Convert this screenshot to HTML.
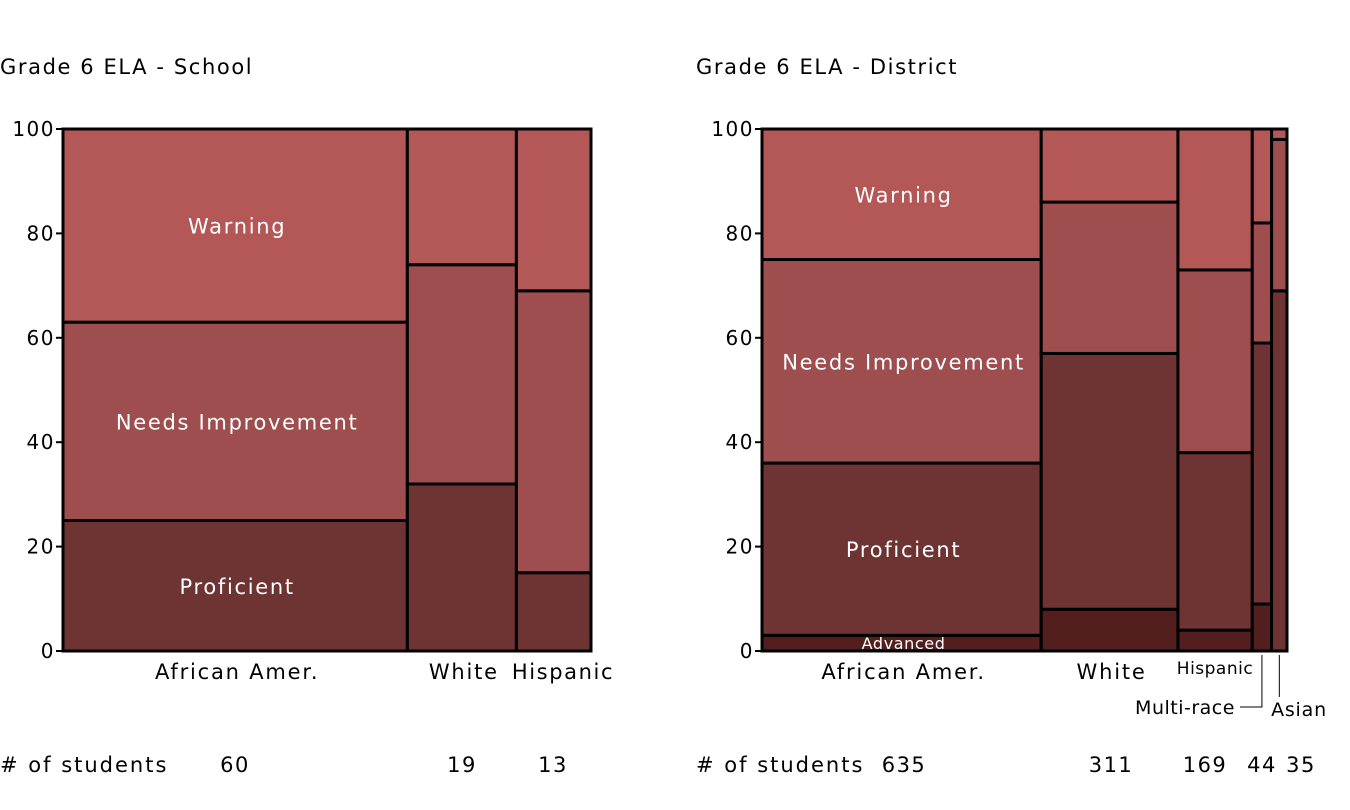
<!DOCTYPE html>
<html><head><meta charset="utf-8"><style>
body{margin:0;background:#fff;}
svg text{font-family:"DejaVu Sans","Liberation Sans",sans-serif;}
</style></head><body>
<svg id="chart" width="1350" height="805" xmlns="http://www.w3.org/2000/svg"></svg>
<script>
const levels = ["Advanced","Proficient","Needs Improvement","Warning"];
const schoolCats = ["African Amer.","White","Hispanic"];
const schoolCounts = [60,19,13];
const schoolAdvanced = [0,0,0];
const schoolProficient = [25,32,15];
const schoolNeeds = [38,42,54];
const schoolWarning = [37,26,31];
const districtCats = ["African Amer.","White","Hispanic","Multi-race","Asian"];
const districtCounts = [635,311,169,44,35];
const districtAdvanced = [3,8,4,9,0];
const districtProficient = [33,49,34,50,69];
const districtNeeds = [39,29,35,23,29];
const districtWarning = [25,14,27,18,2];
const yTicks = [0,20,40,60,80,100];

const colors = ["#521e1e","#6e3333","#9e4e4e","#b45757"];
const NS = "http://www.w3.org/2000/svg";
const svg = document.getElementById("chart");
function mk(tag, attrs, parent){const e=document.createElementNS(NS,tag);for(const k in attrs)e.setAttribute(k,attrs[k]);(parent||svg).appendChild(e);return e;}
function txt(x,y,s,size,anchor,fill,parent,ls){const t=mk("text",{x:x,y:y,"font-size":size,"text-anchor":anchor||"start",fill:fill||"#000","letter-spacing":ls===undefined?1.7:ls},parent);t.textContent=s;return t;}

function drawChart(cfg){
  const g = mk("g",{});
  
  
  const x0=cfg.x0, x1=cfg.x1, yTop=129, yBot=651;
  const ys = v => yBot - v/100*(yBot-yTop);
  const total = cfg.counts.reduce((a,b)=>a+b,0);
  const t = txt(cfg.titleX,74,cfg.title,21,"start","#000",g,1.6);
  
  
  yTicks.forEach(v=>{
    mk("line",{x1:x0-7,x2:x0,y1:ys(v),y2:ys(v),stroke:"#000","stroke-width":2},g);
    const l = txt(x0-8,ys(v)+7,String(v),20,"end","#000",g,1.5);
    
    
  });
  let cx=x0;
  const series=[cfg.adv,cfg.prof,cfg.needs,cfg.warn];
  const bounds=[];
  cfg.counts.forEach((n,i)=>{
    const w=(x1-x0)*n/total;
    let cum=0;
    series.forEach((s,k)=>{
      const v=s[i]; if(v<=0){return;}
      const r=mk("rect",{x:cx,y:ys(cum+v),width:w,height:ys(cum)-ys(cum+v),fill:colors[k],stroke:"#000","stroke-width":3},g);
      
      
      cum+=v;
    });
    bounds.push([cx,cx+w]);
    cx+=w;
  });
  const b0=bounds[0]; const mid=(b0[0]+b0[1])/2+2;
  let cum=0;
  series.forEach((s,k)=>{
    const v=s[0]; if(v<=0){cum+=v;return;}
    const yc=(ys(cum)+ys(cum+v))/2;
    const size = v<6?16:21;
    const l=txt(mid,yc+(v<6?6:8),levels[k],size,"middle","#fff",g,v<6?0.6:1.7);
    
    
    cum+=v;
  });
  cfg.cats.forEach((c,i)=>{
    const m=(bounds[i][0]+bounds[i][1])/2;
    const p=cfg.catPos[i];
    const l=txt(p?p[0]:m+2,p?p[1]:679,c,p?p[2]:21,"middle","#000",g,p?p[3]:1.8);
    
    
    const n=txt(cfg.countX[i],772,String(cfg.counts[i]),21,"middle","#000",g,1.5);
    
    
  });
  const s=txt(cfg.titleX,772,"# of students",21,"start","#000",g,2);
  
  
  return bounds;
}
drawChart({name:"school-chart",title:"Grade 6 ELA - School",titleX:0,x0:63,x1:591,cats:schoolCats,counts:schoolCounts,
  adv:schoolAdvanced,prof:schoolProficient,needs:schoolNeeds,warn:schoolWarning,
  catPos:[null,null,[563,679,21,1.6]],countX:[235,462,553]});
const db=drawChart({name:"district-chart",title:"Grade 6 ELA - District",titleX:696,x0:762,x1:1287,cats:districtCats,counts:districtCounts,
  adv:districtAdvanced,prof:districtProficient,needs:districtNeeds,warn:districtWarning,
  catPos:[null,null,[1215,674,17,0.5],[1185,714,19,0.5],[1299,716,19,0.8]],countX:[904,1111,1205,1262,1301]});
const mMid=(db[3][0]+db[3][1])/2, aMid=(db[4][0]+db[4][1])/2;
const l1=mk("polyline",{points:`${mMid},655 ${mMid},707 1240,707`,fill:"none",stroke:"#000","stroke-width":1});


const l2=mk("line",{x1:aMid,x2:aMid,y1:655,y2:697,stroke:"#000","stroke-width":1});


</script>
</body></html>
